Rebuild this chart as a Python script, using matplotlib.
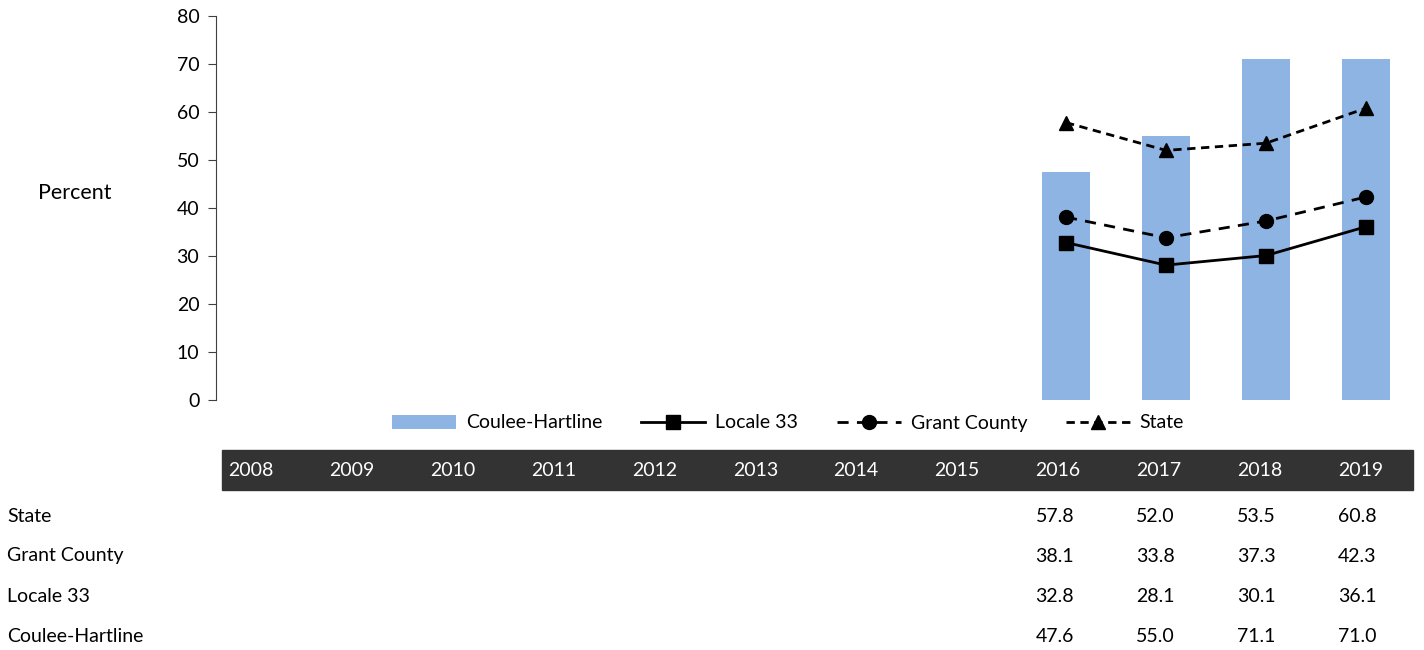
import numpy as np
import matplotlib.pyplot as plt
from matplotlib.patches import Rectangle

plt.rcParams['font.family'] = ['Lato', 'DejaVu Sans']

years = ['2008', '2009', '2010', '2011', '2012', '2013', '2014', '2015',
         '2016', '2017', '2018', '2019']
state = [None] * 8 + [57.8, 52.0, 53.5, 60.8]
grant = [None] * 8 + [38.1, 33.8, 37.3, 42.3]
locale = [None] * 8 + [32.8, 28.1, 30.1, 36.1]
coulee = [None] * 8 + [47.6, 55.0, 71.1, 71.0]

row_names = ['State', 'Grant County', 'Locale 33', 'Coulee-Hartline']
row_values = [state, grant, locale, coulee]

W, H = 1424, 650
fig = plt.figure(figsize=(W / 100, H / 100), dpi=100)

def fx(px):
    return px / W

def fy(py):
    return 1 - py / H

ax = fig.add_axes([fx(216), fy(400), fx(1200), (400 - 16) / H])

x = np.arange(len(years))

def arr(vals):
    return np.array([np.nan if v is None else v for v in vals], dtype=float)

b = ax.bar(x, arr(coulee), width=0.48, color='#8EB4E3', label='Coulee-Hartline', zorder=1)
l1, = ax.plot(x, arr(locale), color='black', lw=2.0, marker='s', ms=10,
              label='Locale 33', zorder=3)
l2, = ax.plot(x, arr(grant), color='black', lw=2.0, ls=(0, (4, 3)), marker='o', ms=10,
              label='Grant County', zorder=3)
l3, = ax.plot(x, arr(state), color='black', lw=2.0, ls=(0, (3, 2)), marker='^', ms=10,
              label='State', zorder=3)

ax.set_xlim(-0.5, len(years) - 0.5)
ax.set_ylim(0, 80)
ax.set_yticks(range(0, 81, 10))
ax.set_xticks([])
for s in ['top', 'right', 'bottom']:
    ax.spines[s].set_visible(False)
ax.spines['left'].set_color('#404040')
ax.tick_params(axis='y', length=6, color='#404040', labelsize=14, pad=6)
ax.patch.set_alpha(0)

fig.text(fx(75), fy(193), 'Percent', ha='center', va='center', fontsize=15.5)

fig.legend([b, l1, l2, l3], ['Coulee-Hartline', 'Locale 33', 'Grant County', 'State'],
           loc='center', bbox_to_anchor=(fx(788), fy(423)), ncol=4,
           frameon=False, fontsize=14, handlelength=3.3, columnspacing=2.0,
           handletextpad=0.5)

# data table
tab = fig.add_axes([fx(216), fy(650), fx(1211), (650 - 440) / H])
tab.set_xlim(-0.5, len(years) - 0.5)
tab.set_ylim(650, 440)
tab.axis('off')
tab.add_patch(Rectangle((-0.44, 450), 11.8, 40, color='#333333', zorder=0, clip_on=False))
for i, yr in enumerate(years):
    tab.text(i - 0.38, 471, yr, color='white', fontsize=14, ha='left', va='center')

row_y = [517, 556, 596, 636]
for name, vals, ry in zip(row_names, row_values, row_y):
    fig.text(fx(7), fy(ry), name, fontsize=14, ha='left', va='center')
    for i, v in enumerate(vals):
        if v is not None:
            tab.text(i - 0.38, ry, f'{v:.1f}', fontsize=14, ha='left', va='center')

fig.savefig('out.png', dpi=100)
